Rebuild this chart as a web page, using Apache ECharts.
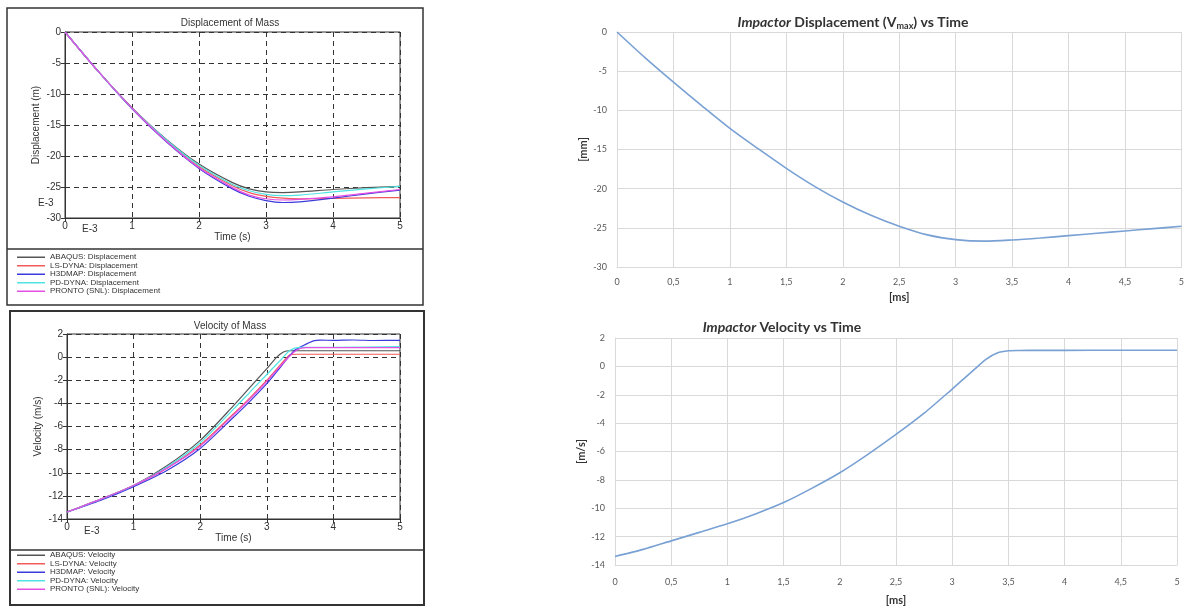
<!DOCTYPE html>
<html>
<head>
<meta charset="utf-8">
<style>
  html, body { margin: 0; padding: 0; background: #fff; }
  #main { width: 1187px; height: 607px; }
</style>
<script src="https://cdn.jsdelivr.net/npm/echarts@6/dist/echarts.min.js"></script>
</head>
<body>
<div id="main"></div>
<script>
// ---- left charts: five codes, time in E-3 s ----
const codeNames = ['ABAQUS', 'LS-DYNA', 'H3DMAP', 'PD-DYNA', 'PRONTO (SNL)'];
const codeColors = ['#555555', '#f25a5a', '#3b3bdc', '#4fe3e3', '#e44fe4'];

const massTime = [0, 0.5, 1, 1.5, 2, 2.5, 2.75, 3, 3.25, 3.5, 4, 4.5, 5];
const dispAbaqus = [0, -6.4, -12.2, -17.2, -21.3, -24.3, -25.3, -25.8, -25.9, -25.8, -25.4, -25.1, -24.9];
const dispLsDyna = [0, -6.4, -12.3, -17.4, -21.7, -24.8, -25.9, -26.5, -26.8, -26.9, -26.85, -26.75, -26.7];
const dispH3dmap = [0, -6.4, -12.4, -17.6, -22.0, -25.3, -26.5, -27.2, -27.5, -27.4, -26.8, -26.1, -25.5];
const dispPdDyna = [0, -6.4, -12.3, -17.3, -21.5, -24.6, -25.6, -26.2, -26.4, -26.3, -25.8, -25.3, -24.9];
const dispPronto = [0, -6.4, -12.3, -17.5, -21.9, -25.1, -26.3, -26.9, -27.1, -27.0, -26.6, -26.0, -25.4];

// velocity curves as [time, value] pairs (each code has its own sampling)
const velAbaqus = [[0, -13.4], [0.5, -12.3], [1, -11.1], [1.5, -9.4], [2, -7.2], [2.5, -4.2], [2.75, -2.6], [3, -1.0], [3.15, 0.0], [3.25, 0.45], [3.35, 0.55], [4, 0.55], [5, 0.55]];
const velLsDyna = [[0, -13.4], [0.5, -12.3], [1, -11.1], [1.5, -9.6], [2, -7.6], [2.5, -4.9], [2.75, -3.5], [3, -2.0], [3.2, -0.7], [3.35, 0.2], [3.45, 0.25], [4, 0.25], [5, 0.25]];
const velH3dmap = [[0, -13.4], [0.5, -12.4], [1, -11.2], [1.5, -9.8], [2, -7.9], [2.5, -5.2], [2.75, -3.8], [3, -2.3], [3.2, -0.9], [3.4, 0.5], [3.55, 1.0], [3.7, 1.4], [3.8, 1.47], [4, 1.45], [4.3, 1.48], [4.6, 1.44], [5, 1.45]];
const velPdDyna = [[0, -13.4], [0.5, -12.3], [1, -11.1], [1.5, -9.5], [2, -7.4], [2.5, -4.5], [2.75, -3.0], [3, -1.5], [3.2, -0.3], [3.35, 0.6], [3.5, 0.85], [4, 0.85], [5, 0.9]];
const velPronto = [[0, -13.4], [0.5, -12.3], [1, -11.1], [1.5, -9.6], [2, -7.7], [2.5, -5.0], [2.75, -3.6], [3, -2.1], [3.2, -0.8], [3.4, 0.4], [3.5, 0.75], [3.6, 0.83], [4, 0.83], [5, 0.83]];

// ---- right charts: impactor, time in ms ----
const impTime = [0, 0.25, 0.5, 0.75, 1, 1.25, 1.5, 1.75, 2, 2.25, 2.5, 2.75, 3, 3.25, 3.5, 3.75, 4, 4.25, 4.5, 4.75, 5];
const impDisp = [0, -3.3, -6.4, -9.4, -12.3, -14.9, -17.4, -19.7, -21.7, -23.4, -24.8, -25.9, -26.5, -26.7, -26.55, -26.3, -26.0, -25.7, -25.4, -25.1, -24.8];
const impVelTime = [0, 0.25, 0.5, 0.75, 1, 1.25, 1.5, 1.75, 2, 2.25, 2.5, 2.75, 3, 3.1, 3.2, 3.3, 3.4, 3.5, 3.6, 3.75, 4, 4.5, 5];
const impVel = [-13.4, -12.9, -12.3, -11.7, -11.1, -10.4, -9.6, -8.6, -7.5, -6.2, -4.8, -3.3, -1.6, -0.9, -0.2, 0.5, 0.95, 1.1, 1.12, 1.13, 1.13, 1.14, 1.14];

const dispLeft = [dispAbaqus, dispLsDyna, dispH3dmap, dispPdDyna, dispPronto];
const velLeft = [velAbaqus, velLsDyna, velH3dmap, velPdDyna, velPronto];

const zip = (xs, ys) => xs.map((x, i) => [x, ys[i]]);
const comma = v => String(v).replace('.', ',');

const leftFont = 'Liberation Sans, Arial, sans-serif';
const rightFont = 'Lato, "Open Sans", sans-serif';

function leftX (gi) {
  return {
    type: 'value', gridIndex: gi, min: 0, max: 5, interval: 1,
    name: 'Time (s)', nameLocation: 'middle', nameGap: 14,
    nameTextStyle: { fontFamily: leftFont, fontSize: 10, color: '#333' },
    axisLine: { onZero: false, lineStyle: { color: '#333' } },
    axisTick: { length: 4, lineStyle: { color: '#333' } },
    axisLabel: { fontFamily: leftFont, fontSize: 10, color: '#333', margin: 3 },
    splitLine: { lineStyle: { color: '#333', type: [5, 4], width: 1 } }
  }
}
function leftY (gi, min, max, step, name) {
  return {
    type: 'value', gridIndex: gi, min: min, max: max, interval: step,
    name: name, nameLocation: 'middle', nameGap: 24,
    nameTextStyle: { fontFamily: leftFont, fontSize: 10, color: '#333' },
    axisLine: { onZero: false, lineStyle: { color: '#333' } },
    axisTick: { length: 4, lineStyle: { color: '#333' } },
    axisLabel: { fontFamily: leftFont, fontSize: 10, color: '#333', margin: 4 },
    splitLine: { lineStyle: { color: '#333', type: [5, 4], width: 1 } }
  }
}
function rightX (gi, gap, margin) {
  return {
    type: 'value', gridIndex: gi, min: 0, max: 5, interval: 0.5,
    name: '[ms]', nameLocation: 'middle', nameGap: gap,
    nameTextStyle: { fontFamily: rightFont, fontSize: 11, fontWeight: 'bold', color: '#333' },
    axisLine: { onZero: false, lineStyle: { color: '#d9d9d9' } },
    axisTick: { show: false },
    axisLabel: { fontFamily: rightFont, fontSize: 9, color: '#595959', margin: margin, formatter: comma },
    splitLine: { show: true, lineStyle: { color: '#d9d9d9', width: 1 } }
  }
}
function rightY (gi, min, max, step, name, gap) {
  return {
    type: 'value', gridIndex: gi, min: min, max: max, interval: step,
    name: name, nameLocation: 'middle', nameGap: gap,
    nameTextStyle: { fontFamily: rightFont, fontSize: 11, fontWeight: 'bold', color: '#333' },
    axisLine: { show: true, onZero: false, lineStyle: { color: '#d9d9d9' } },
    axisTick: { show: false },
    axisLabel: { fontFamily: rightFont, fontSize: 9, color: '#595959', margin: 10, formatter: comma },
    splitLine: { lineStyle: { color: '#d9d9d9', width: 1 } }
  }
}

const series = []
codeNames.forEach((n, i) => {
  series.push({
    name: n + ': Displacement', type: 'line', xAxisIndex: 0, yAxisIndex: 0,
    data: zip(massTime, dispLeft[i]), smooth: 0.3, showSymbol: false,
    lineStyle: { color: codeColors[i], width: 1.2 }, itemStyle: { color: codeColors[i] }
  })
})
codeNames.forEach((n, i) => {
  series.push({
    name: n + ': Velocity', type: 'line', xAxisIndex: 1, yAxisIndex: 1,
    data: velLeft[i], smooth: 0.25, showSymbol: false,
    lineStyle: { color: codeColors[i], width: 1.2 }, itemStyle: { color: codeColors[i] }
  })
})
series.push({
  name: 'Impactor Displacement', type: 'line', xAxisIndex: 2, yAxisIndex: 2,
  data: zip(impTime, impDisp), smooth: 0.3, showSymbol: false,
  lineStyle: { color: '#79a1d4', width: 1.6 }
})
series.push({
  name: 'Impactor Velocity', type: 'line', xAxisIndex: 3, yAxisIndex: 3,
  data: zip(impVelTime, impVel), smooth: 0.25, showSymbol: false,
  lineStyle: { color: '#79a1d4', width: 1.6 }
})

const legendCommon = {
  orient: 'vertical', left: 17, padding: 0, itemGap: 0, itemWidth: 28, itemHeight: 1.5, icon: 'rect',
  textStyle: { fontFamily: leftFont, fontSize: 8, color: '#333', lineHeight: 8.5 },
  selectedMode: false
}

const option = {
  animation: false,
  backgroundColor: '#fff',
  title: [
    { text: 'Displacement of Mass', left: 225, top: 13, textAlign: 'center',
      textStyle: { fontFamily: leftFont, fontSize: 10, fontWeight: 'normal', color: '#333' } },
    { text: 'Velocity of Mass', left: 225, top: 316, textAlign: 'center',
      textStyle: { fontFamily: leftFont, fontSize: 10, fontWeight: 'normal', color: '#333' } },
    { text: '{i|Impactor} Displacement (V{s|max}) vs Time', left: 848, top: 9, textAlign: 'center',
      textStyle: { fontFamily: rightFont, fontSize: 14, fontWeight: 'bold', color: '#333',
        rich: {
          i: { fontFamily: rightFont, fontSize: 14, fontWeight: 'bold', fontStyle: 'italic', color: '#333' },
          s: { fontFamily: rightFont, fontSize: 9, fontWeight: 'bold', color: '#333', verticalAlign: 'bottom', padding: [8, 0, 0, 0] }
        } } },
    { text: '{i|Impactor} Velocity vs Time', left: 777, top: 315, textAlign: 'center',
      textStyle: { fontFamily: rightFont, fontSize: 14, fontWeight: 'bold', color: '#333',
        rich: {
          i: { fontFamily: rightFont, fontSize: 14, fontWeight: 'bold', fontStyle: 'italic', color: '#333' }
        } } }
  ],
  legend: [
    Object.assign({ top: 253, data: codeNames.map(n => n + ': Displacement') }, legendCommon),
    Object.assign({ top: 551, data: codeNames.map(n => n + ': Velocity') }, legendCommon)
  ],
  grid: [
    { left: 65, top: 32, width: 335, height: 186, show: true, borderColor: '#333', borderWidth: 1 },
    { left: 67, top: 334, width: 333, height: 185, show: true, borderColor: '#333', borderWidth: 1 },
    { left: 617, top: 32, width: 568, height: 235 },
    { left: 615, top: 338, width: 562, height: 227 }
  ],
  xAxis: [leftX(0), leftX(1), rightX(2, 25, 11), rightX(3, 30, 13)],
  yAxis: [
    leftY(0, -30, 0, 5, 'Displacement (m)'),
    leftY(1, -14, 2, 2, 'Velocity (m/s)'),
    rightY(2, -30, 0, 5, '[mm]', 28),
    rightY(3, -14, 2, 2, '[m/s]', 25)
  ],
  series: series,
  graphic: [
    { type: 'rect', shape: { x: 7, y: 8, width: 416, height: 297 }, style: { fill: 'none', stroke: '#333', lineWidth: 1.5 } },
    { type: 'line', shape: { x1: 7, y1: 249, x2: 423, y2: 249 }, style: { stroke: '#333', lineWidth: 1.5 } },
    { type: 'rect', shape: { x: 10, y: 311, width: 414, height: 294 }, style: { fill: 'none', stroke: '#333', lineWidth: 2 } },
    { type: 'line', shape: { x1: 10, y1: 550, x2: 424, y2: 550 }, style: { stroke: '#333', lineWidth: 1.5 } },
    { type: 'text', left: 38, top: 198, style: { text: 'E-3', font: '10px ' + leftFont, fill: '#333' } },
    { type: 'text', left: 82, top: 224, style: { text: 'E-3', font: '10px ' + leftFont, fill: '#333' } },
    { type: 'text', left: 84, top: 526, style: { text: 'E-3', font: '10px ' + leftFont, fill: '#333' } }
  ]
}

const chart = echarts.init(document.getElementById('main'))
chart.setOption(option)
</script>
</body>
</html>
